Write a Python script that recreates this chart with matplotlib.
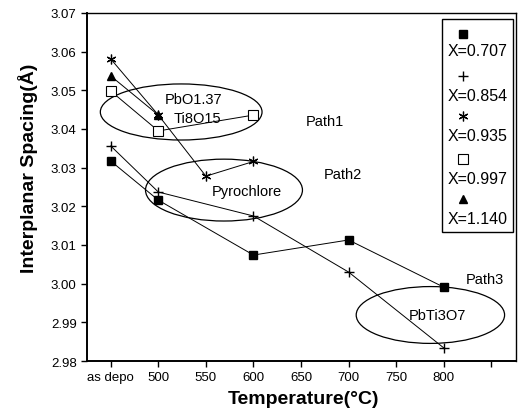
import matplotlib
matplotlib.use("Agg")
import matplotlib.pyplot as plt
from matplotlib.patches import Ellipse, Rectangle

plt.rcParams['font.family'] = ['Liberation Sans', 'DejaVu Sans']

# Annealing temperature (450 stands for the as-deposited film)
temps_0707 = [450, 500, 600, 700, 800]
spacing_0707 = [3.0317, 3.0216, 3.0074, 3.0113, 2.9991]

temps_0854 = [450, 500, 600, 700, 800]
spacing_0854 = [3.0356, 3.0237, 3.0175, 3.0030, 2.9834]

temps_0935 = [450, 500, 550, 600]
spacing_0935 = [3.0581, 3.0436, 3.0278, 3.0316]

temps_0997 = [450, 500, 600]
spacing_0997 = [3.0498, 3.0395, 3.0436]

temps_1140 = [450, 500]
spacing_1140 = [3.0537, 3.0436]

series_labels = ["X=0.707", "X=0.854", "X=0.935", "X=0.997", "X=1.140"]

x_ticks = [450, 500, 550, 600, 650, 700, 750, 800, 850]
x_tick_labels = ["as depo", "500", "550", "600", "650", "700", "750", "800", ""]
y_ticks = [2.98, 2.99, 3.00, 3.01, 3.02, 3.03, 3.04, 3.05, 3.06, 3.07]

# Phase regions: (centre x, centre y, width, height)
phase_regions = [
    (524, 3.0444, 170, 0.0145),
    (569, 3.0242, 165, 0.0160),
    (786, 2.9919, 156, 0.0147),
]
phase_labels = [("PbO1.37", 537, 3.0478), ("Ti8O15", 541, 3.0428),
                ("Pyrochlore", 593, 3.0240), ("PbTi3O7", 793, 2.9919)]
path_labels = [("Path1", 675, 3.0421), ("Path2", 694, 3.0284), ("Path3", 843, 3.0012)]

fig = plt.figure(figsize=(5.22, 4.14), dpi=100)
ax = fig.add_axes([0.1667, 0.1256, 0.8218, 0.8406])

asterisk = (6, 2, 0)
styles = [
    dict(marker='s', ms=5.5, mfc='black', mec='black'),
    dict(marker='+', ms=7, mfc='black', mec='black', mew=1.0),
    dict(marker=asterisk, ms=7, mfc='black', mec='black', mew=0.9),
    dict(marker='s', ms=6.5, mfc='white', mec='black', mew=0.8),
    dict(marker='^', ms=5.5, mfc='black', mec='black'),
]
data = [
    (temps_0707, spacing_0707),
    (temps_0854, spacing_0854),
    (temps_0935, spacing_0935),
    (temps_0997, spacing_0997),
    (temps_1140, spacing_1140),
]
for (t, s), st in zip(data, styles):
    ax.plot(t, s, color='black', lw=0.7, zorder=3, **st)

for cx, cy, w, h in phase_regions:
    ax.add_patch(Ellipse((cx, cy), w, h, fill=False, ec='black', lw=0.9, zorder=2))

for label, px, py in phase_labels:
    ax.text(px, py, label, ha='center', va='center', fontsize=10.5)
for label, px, py in path_labels:
    ax.text(px, py, label, ha='center', va='center', fontsize=10.5)

ax.set_xlim(425, 876)
ax.set_ylim(2.98, 3.07)
ax.set_xticks(x_ticks)
ax.set_xticklabels(x_tick_labels)
ax.set_yticks(y_ticks)
ax.set_yticklabels([f"{v:.2f}" for v in y_ticks])
ax.tick_params(axis='both', direction='out', length=4, width=1, labelsize=9.5)
for sp in ax.spines.values():
    sp.set_linewidth(1.0)
ax.spines['left'].set_linewidth(1.4)
ax.spines['bottom'].set_linewidth(1.4)

fig.text(28 / 522, 1 - 168 / 414, "Interplanar Spacing(Å)", rotation=90,
         ha='center', va='center', fontsize=14, fontweight='bold')
fig.text(303 / 522, 1 - 400 / 414, "Temperature(°C)",
         ha='center', va='center', fontsize=14, fontweight='bold')

# Legend: marker stacked above its label inside a framed box
ax.add_patch(Rectangle((0.8275, 0.3707), 0.1655, 0.6121, transform=ax.transAxes,
                       fill=True, fc='white', ec='black', lw=1.0, zorder=5, clip_on=False))
marker_y = [0.9397, 0.8190, 0.7040, 0.5805, 0.4655]
label_y = [0.8908, 0.7615, 0.6466, 0.5230, 0.4109]
for st, my, ly, lab in zip(styles, marker_y, label_y, series_labels):
    ax.plot([0.876], [my], transform=ax.transAxes, ls='none', zorder=6, clip_on=False, **st)
    ax.text(0.911, ly, lab, transform=ax.transAxes, ha='center', va='center',
            fontsize=11.5, zorder=6)

fig.savefig("out.png", dpi=100)
